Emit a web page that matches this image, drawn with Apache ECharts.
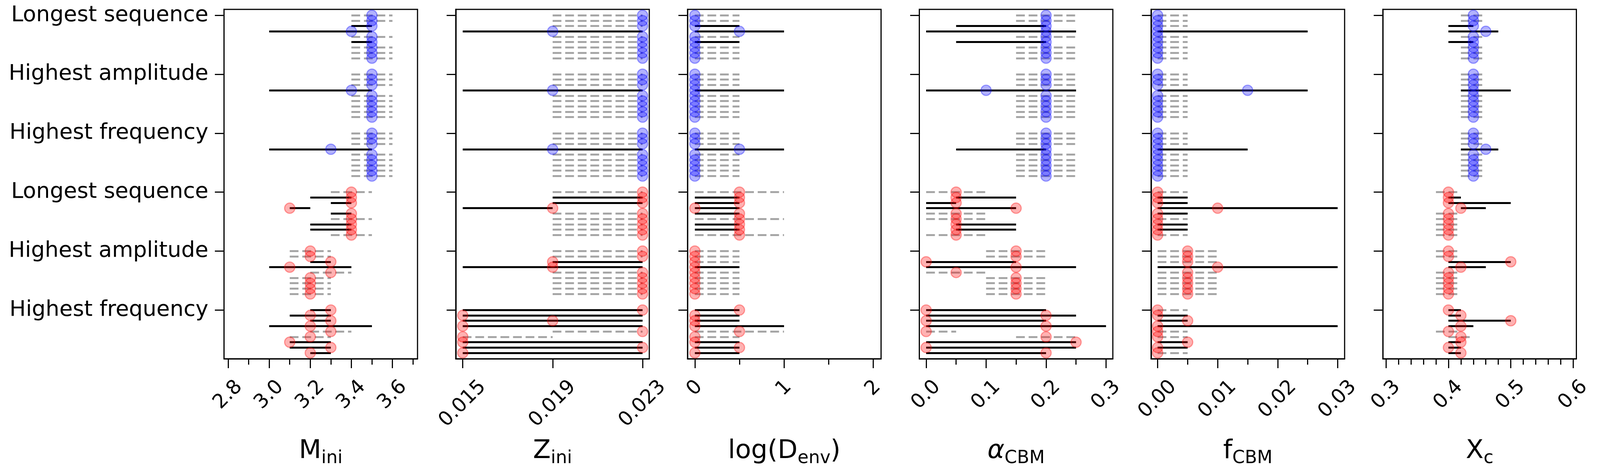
<!DOCTYPE html>
<html>
<head>
<meta charset="utf-8">
<script src="https://cdn.jsdelivr.net/npm/echarts@6/dist/echarts.min.js"></script>
<style>
  html, body { margin: 0; padding: 0; background: #fff; overflow: hidden; }
  #chart { width: 100vw; height: 100vh; }
</style>
</head>
<body>
<div id="chart"></div>
<script>
// Groups along the y axis (blue: first three, red: last three)
const groupNames = ["Longest sequence", "Highest amplitude", "Highest frequency",
                    "Longest sequence", "Highest amplitude", "Highest frequency"];
const groupTicks = [0, 1, 2, 3, 4, 5];

// M_ini
const mIniBest = [
  [3.5, 3.5, 3.5, 3.4, 3.5, 3.5, 3.5, 3.5, 3.5],
  [3.5, 3.5, 3.5, 3.4, 3.5, 3.5, 3.5, 3.5, 3.5],
  [3.5, 3.5, 3.5, 3.3, 3.5, 3.5, 3.5, 3.5, 3.5],
  [3.4, 3.4, 3.4, 3.1, 3.4, 3.4, 3.4, 3.4, 3.4],
  [3.2, 3.2, 3.3, 3.1, 3.3, 3.2, 3.2, 3.2, 3.2],
  [3.3, 3.2, 3.3, 3.2, 3.3, 3.2, 3.1, 3.3, 3.2]
];
const mIniLow = [
  [3.4, 3.4, 3.4, 3.0, 3.4, 3.4, 3.4, 3.4, 3.4],
  [3.4, 3.4, 3.4, 3.0, 3.4, 3.4, 3.4, 3.4, 3.4],
  [3.4, 3.4, 3.4, 3.0, 3.4, 3.4, 3.4, 3.4, 3.4],
  [3.3, 3.2, 3.3, 3.1, 3.3, 3.3, 3.2, 3.2, 3.3],
  [3.1, 3.1, 3.2, 3.0, 3.2, 3.1, 3.1, 3.1, 3.1],
  [3.2, 3.1, 3.2, 3.0, 3.2, 3.1, 3.1, 3.1, 3.2]
];
const mIniHigh = [
  [3.6, 3.6, 3.5, 3.5, 3.6, 3.5, 3.6, 3.6, 3.6],
  [3.6, 3.6, 3.6, 3.5, 3.6, 3.6, 3.6, 3.6, 3.6],
  [3.6, 3.6, 3.6, 3.5, 3.6, 3.6, 3.6, 3.6, 3.6],
  [3.5, 3.4, 3.4, 3.2, 3.4, 3.5, 3.4, 3.4, 3.5],
  [3.3, 3.3, 3.3, 3.4, 3.4, 3.3, 3.3, 3.3, 3.3],
  [3.3, 3.3, 3.3, 3.5, 3.4, 3.3, 3.3, 3.3, 3.3]
];
const mIniSolid = [
  [0, 0, 1, 1, 0, 1, 0, 0, 0],
  [0, 0, 0, 1, 0, 0, 0, 0, 0],
  [0, 0, 0, 1, 0, 0, 0, 0, 0],
  [0, 1, 1, 1, 1, 0, 1, 1, 0],
  [0, 0, 1, 1, 0, 0, 0, 0, 0],
  [1, 1, 1, 1, 0, 0, 1, 1, 1]
];
const mIniTicks = [2.8, 3.0, 3.2, 3.4, 3.6];
const mIniMinor = [2.9, 3.1, 3.3, 3.5, 3.7];

// Z_ini
const zIniBest = [
  [0.023, 0.023, 0.023, 0.019, 0.023, 0.023, 0.023, 0.023, 0.023],
  [0.023, 0.023, 0.023, 0.019, 0.023, 0.023, 0.023, 0.023, 0.023],
  [0.023, 0.023, 0.023, 0.019, 0.023, 0.023, 0.023, 0.023, 0.023],
  [0.023, 0.023, 0.023, 0.019, 0.023, 0.023, 0.023, 0.023, 0.023],
  [0.023, 0.023, 0.019, 0.019, 0.023, 0.023, 0.023, 0.023, 0.023],
  [0.023, 0.015, 0.019, 0.015, 0.023, 0.015, 0.015, 0.023, 0.015]
];
const zIniLow = [
  [0.019, 0.019, 0.019, 0.015, 0.019, 0.019, 0.019, 0.019, 0.019],
  [0.019, 0.019, 0.019, 0.015, 0.019, 0.019, 0.019, 0.019, 0.019],
  [0.019, 0.019, 0.019, 0.015, 0.019, 0.019, 0.019, 0.019, 0.019],
  [0.019, 0.019, 0.019, 0.015, 0.019, 0.019, 0.019, 0.019, 0.019],
  [0.019, 0.019, 0.019, 0.015, 0.019, 0.019, 0.019, 0.019, 0.019],
  [0.015, 0.015, 0.015, 0.015, 0.019, 0.015, 0.015, 0.015, 0.015]
];
const zIniHigh = [
  [0.023, 0.023, 0.023, 0.023, 0.023, 0.023, 0.023, 0.023, 0.023],
  [0.023, 0.023, 0.023, 0.023, 0.023, 0.023, 0.023, 0.023, 0.023],
  [0.023, 0.023, 0.023, 0.023, 0.023, 0.023, 0.023, 0.023, 0.023],
  [0.023, 0.023, 0.023, 0.019, 0.023, 0.023, 0.023, 0.023, 0.023],
  [0.023, 0.023, 0.023, 0.023, 0.023, 0.023, 0.023, 0.023, 0.023],
  [0.023, 0.023, 0.023, 0.023, 0.023, 0.019, 0.023, 0.023, 0.023]
];
const zIniSolid = [
  [0, 0, 0, 1, 0, 0, 0, 0, 0],
  [0, 0, 0, 1, 0, 0, 0, 0, 0],
  [0, 0, 0, 1, 0, 0, 0, 0, 0],
  [0, 1, 1, 1, 0, 0, 0, 0, 0],
  [0, 0, 1, 1, 0, 0, 0, 0, 0],
  [1, 1, 1, 1, 0, 0, 1, 1, 1]
];
const zIniTicks = [0.015, 0.019, 0.023];
const zIniMinor = [];

// log(D_env)
const logDBest = [
  [0, 0, 0, 0.5, 0, 0, 0, 0, 0],
  [0, 0, 0, 0, 0, 0, 0, 0, 0],
  [0, 0, 0, 0.5, 0, 0, 0, 0, 0],
  [0.5, 0.5, 0.5, 0, 0.5, 0.5, 0.5, 0.5, 0.5],
  [0, 0, 0, 0, 0, 0, 0, 0, 0],
  [0.5, 0, 0, 0, 0.5, 0, 0, 0.5, 0]
];
const logDLow = [
  [0, 0, 0, 0, 0, 0, 0, 0, 0],
  [0, 0, 0, 0, 0, 0, 0, 0, 0],
  [0, 0, 0, 0, 0, 0, 0, 0, 0],
  [0, 0, 0, 0, 0, 0, 0, 0, 0],
  [0, 0, 0, 0, 0, 0, 0, 0, 0],
  [0, 0, 0, 0, 0, 0, 0, 0, 0]
];
const logDHigh = [
  [0.5, 0.5, 0.5, 1, 0.5, 0.5, 0.5, 0.5, 0.5],
  [0.5, 0.5, 0.5, 1, 0.5, 0.5, 0.5, 0.5, 0.5],
  [0.5, 0.5, 0.5, 1, 0.5, 0.5, 0.5, 0.5, 0.5],
  [1, 0.5, 0.5, 0.5, 0.5, 1, 0.5, 0.5, 1],
  [0.5, 0.5, 0.5, 0.5, 0.5, 0.5, 0.5, 0.5, 0.5],
  [0.5, 0.5, 0.5, 1, 1, 0.5, 0.5, 0.5, 0.5]
];
const logDSolid = [
  [0, 0, 1, 1, 0, 1, 0, 0, 0],
  [0, 0, 0, 1, 0, 0, 0, 0, 0],
  [0, 0, 0, 1, 0, 0, 0, 0, 0],
  [0, 1, 1, 1, 1, 0, 1, 1, 0],
  [0, 0, 0, 1, 0, 0, 0, 0, 0],
  [1, 1, 1, 1, 0, 0, 1, 1, 1]
];
const logDTicks = [0, 1, 2];
const logDMinor = [0.5, 1.5];

// alpha_CBM
const alphaBest = [
  [0.2, 0.2, 0.2, 0.2, 0.2, 0.2, 0.2, 0.2, 0.2],
  [0.2, 0.2, 0.2, 0.1, 0.2, 0.2, 0.2, 0.2, 0.2],
  [0.2, 0.2, 0.2, 0.2, 0.2, 0.2, 0.2, 0.2, 0.2],
  [0.05, 0.05, 0.05, 0.15, 0.05, 0.05, 0.05, 0.05, 0.05],
  [0.15, 0.15, 0, 0.15, 0.05, 0.15, 0.15, 0.15, 0.15],
  [0, 0.2, 0, 0.2, 0, 0.2, 0.25, 0, 0.2]
];
const alphaLow = [
  [0.15, 0.15, 0.05, 0, 0.15, 0.05, 0.15, 0.15, 0.15],
  [0.15, 0.15, 0.15, 0, 0.15, 0.15, 0.15, 0.15, 0.15],
  [0.15, 0.15, 0.15, 0.05, 0.15, 0.15, 0.15, 0.15, 0.15],
  [0, 0.05, 0, 0, 0, 0, 0.05, 0.05, 0],
  [0.1, 0.1, 0, 0, 0, 0.1, 0.1, 0.1, 0.1],
  [0, 0, 0, 0, 0, 0.15, 0, 0, 0]
];
const alphaHigh = [
  [0.25, 0.25, 0.2, 0.25, 0.25, 0.2, 0.25, 0.25, 0.25],
  [0.25, 0.25, 0.25, 0.25, 0.25, 0.25, 0.25, 0.25, 0.25],
  [0.25, 0.25, 0.25, 0.2, 0.25, 0.25, 0.25, 0.25, 0.25],
  [0.1, 0.15, 0.05, 0.15, 0.1, 0.1, 0.15, 0.15, 0.1],
  [0.2, 0.2, 0.15, 0.25, 0.1, 0.2, 0.2, 0.2, 0.2],
  [0.2, 0.25, 0.2, 0.3, 0.05, 0.25, 0.25, 0.25, 0.2]
];
const alphaSolid = [
  [0, 0, 1, 1, 0, 1, 0, 0, 0],
  [0, 0, 0, 1, 0, 0, 0, 0, 0],
  [0, 0, 0, 1, 0, 0, 0, 0, 0],
  [0, 1, 1, 1, 0, 0, 1, 1, 0],
  [0, 0, 1, 1, 0, 0, 0, 0, 0],
  [1, 1, 1, 1, 0, 0, 1, 1, 1]
];
const alphaTicks = [0, 0.1, 0.2, 0.3];
const alphaMinor = [0.05, 0.15, 0.25];

// f_CBM
const fBest = [
  [0, 0, 0, 0, 0, 0, 0, 0, 0],
  [0, 0, 0, 0.015, 0, 0, 0, 0, 0],
  [0, 0, 0, 0, 0, 0, 0, 0, 0],
  [0, 0, 0, 0.01, 0, 0, 0, 0, 0],
  [0.005, 0.005, 0.005, 0.01, 0.005, 0.005, 0.005, 0.005, 0.005],
  [0, 0, 0.005, 0, 0, 0, 0.005, 0, 0]
];
const fLow = [
  [0, 0, 0, 0, 0, 0, 0, 0, 0],
  [0, 0, 0, 0, 0, 0, 0, 0, 0],
  [0, 0, 0, 0, 0, 0, 0, 0, 0],
  [0, 0, 0, 0, 0, 0, 0, 0, 0],
  [0, 0, 0, 0, 0, 0, 0, 0, 0],
  [0, 0, 0, 0, 0, 0, 0, 0, 0]
];
const fHigh = [
  [0.005, 0.005, 0.005, 0.025, 0.005, 0.005, 0.005, 0.005, 0.005],
  [0.005, 0.005, 0.005, 0.025, 0.005, 0.005, 0.005, 0.005, 0.005],
  [0.005, 0.005, 0.005, 0.015, 0.005, 0.005, 0.005, 0.005, 0.005],
  [0.005, 0.005, 0.005, 0.03, 0.005, 0.005, 0.005, 0.005, 0.005],
  [0.01, 0.01, 0.01, 0.03, 0.01, 0.01, 0.01, 0.01, 0.01],
  [0.005, 0.005, 0.005, 0.03, 0.005, 0.005, 0.005, 0.005, 0.005]
];
const fSolid = [
  [0, 0, 0, 1, 0, 0, 0, 0, 0],
  [0, 0, 0, 1, 0, 0, 0, 0, 0],
  [0, 0, 0, 1, 0, 0, 0, 0, 0],
  [0, 1, 1, 1, 1, 0, 1, 1, 0],
  [0, 0, 0, 1, 0, 0, 0, 0, 0],
  [0, 1, 1, 1, 0, 0, 1, 1, 0]
];
const fTicks = [0, 0.01, 0.02, 0.03];
const fMinor = [0.005, 0.015, 0.025];

// X_c
const xcBest = [
  [0.44, 0.44, 0.44, 0.46, 0.44, 0.44, 0.44, 0.44, 0.44],
  [0.44, 0.44, 0.44, 0.44, 0.44, 0.44, 0.44, 0.44, 0.44],
  [0.44, 0.44, 0.44, 0.46, 0.44, 0.44, 0.44, 0.44, 0.44],
  [0.40, 0.40, 0.40, 0.42, 0.40, 0.40, 0.40, 0.40, 0.40],
  [0.40, 0.40, 0.50, 0.42, 0.40, 0.40, 0.40, 0.40, 0.40],
  [0.40, 0.42, 0.50, 0.42, 0.40, 0.42, 0.42, 0.40, 0.42]
];
const xcLow = [
  [0.42, 0.42, 0.40, 0.40, 0.42, 0.40, 0.42, 0.42, 0.42],
  [0.42, 0.42, 0.42, 0.42, 0.42, 0.42, 0.42, 0.42, 0.42],
  [0.42, 0.42, 0.42, 0.42, 0.42, 0.42, 0.42, 0.42, 0.42],
  [0.38, 0.40, 0.40, 0.42, 0.38, 0.38, 0.38, 0.38, 0.38],
  [0.38, 0.38, 0.40, 0.40, 0.38, 0.38, 0.38, 0.38, 0.38],
  [0.40, 0.40, 0.40, 0.40, 0.38, 0.40, 0.40, 0.40, 0.40]
];
const xcHigh = [
  [0.46, 0.46, 0.44, 0.48, 0.46, 0.44, 0.46, 0.46, 0.46],
  [0.46, 0.46, 0.46, 0.50, 0.46, 0.46, 0.46, 0.46, 0.46],
  [0.46, 0.46, 0.46, 0.48, 0.46, 0.46, 0.46, 0.46, 0.46],
  [0.42, 0.42, 0.50, 0.46, 0.42, 0.42, 0.42, 0.42, 0.42],
  [0.42, 0.42, 0.50, 0.46, 0.42, 0.42, 0.42, 0.42, 0.42],
  [0.42, 0.42, 0.50, 0.44, 0.42, 0.44, 0.42, 0.42, 0.42]
];
const xcSolid = [
  [0, 0, 1, 1, 0, 1, 0, 0, 0],
  [0, 0, 0, 1, 0, 0, 0, 0, 0],
  [0, 0, 0, 1, 0, 0, 0, 0, 0],
  [0, 1, 1, 1, 0, 0, 0, 0, 0],
  [0, 0, 1, 1, 0, 0, 0, 0, 0],
  [1, 1, 1, 1, 0, 0, 1, 1, 1]
];
const xcTicks = [0.3, 0.4, 0.5, 0.6];
const xcMinor = [0.32, 0.34, 0.36, 0.38, 0.42, 0.44, 0.46, 0.48, 0.52, 0.54, 0.56, 0.58];

(function () {
  const FONT = "DejaVu Sans";
  const panels = [
    { best: mIniBest, low: mIniLow, high: mIniHigh, solid: mIniSolid, ticks: mIniTicks, minor: mIniMinor,
      min: 2.78, max: 3.722, digits: 1, name: "{m|M}{s|ini}" },
    { best: zIniBest, low: zIniLow, high: zIniHigh, solid: zIniSolid, ticks: zIniTicks, minor: zIniMinor,
      min: 0.01469, max: 0.0233, digits: 3, name: "{m|Z}{s|ini}" },
    { best: logDBest, low: logDLow, high: logDHigh, solid: logDSolid, ticks: logDTicks, minor: logDMinor,
      min: -0.082, max: 2.088, digits: 0, name: "{m|log(D}{s|env}{m|)}" },
    { best: alphaBest, low: alphaLow, high: alphaHigh, solid: alphaSolid, ticks: alphaTicks, minor: alphaMinor,
      min: -0.0114, max: 0.3114, digits: 1, name: "{a|α}{s|CBM}" },
    { best: fBest, low: fLow, high: fHigh, solid: fSolid, ticks: fTicks, minor: fMinor,
      min: -0.00109, max: 0.03116, digits: 2, name: "{m|f}{s|CBM}" },
    { best: xcBest, low: xcLow, high: xcHigh, solid: xcSolid, ticks: xcTicks, minor: xcMinor,
      min: 0.29485, max: 0.60526, digits: 1, name: "{m|X}{s|c}" }
  ];

  // layout is written for a 4200x1200 page and scaled to the real viewport
  const W = window.innerWidth || 4200, H = window.innerHeight || 1200;
  const sx = W / 4200, sy = H / 1200, s = Math.min(sx, sy);

  // rows inside a group are stacked 1/11 apart below the group tick
  const rowY = (g, j) => g + j / 11;

  // centre the rotated tick labels under their tick like matplotlib does
  const ctx = document.createElement("canvas").getContext("2d");
  const tickFont = 52 * s;
  ctx.font = tickFont + "px '" + FONT + "'";
  function labelMargin(texts) {
    const w = Math.max.apply(null, texts.map(t => ctx.measureText(t).width));
    return 51 * sy + (w + 0.73 * tickFont) / (2 * Math.SQRT2);
  }

  const grid = [], xAxis = [], yAxis = [], series = [];
  const left0 = 588, step = 608.4, width = 508, top = 24, height = 894;
  const tickStyle = { color: "#000", width: 3 * s };

  panels.forEach((p, i) => {
    grid.push({
      left: (left0 + i * step) * sx, top: top * sy, width: width * sx, height: height * sy,
      show: true, borderColor: "#000", borderWidth: 3 * s, backgroundColor: "transparent",
      containLabel: false, outerBoundsMode: "none"
    });
    const labels = p.ticks.map(v => v.toFixed(p.digits));
    xAxis.push({
      gridIndex: i, type: "value", position: "bottom", min: p.min, max: p.max,
      splitLine: { show: false },
      axisLine: { show: true, onZero: false, lineStyle: tickStyle },
      axisTick: { show: true, customValues: p.ticks, length: 24 * sy, lineStyle: tickStyle },
      axisLabel: {
        customValues: p.ticks, rotate: 45, align: "center", verticalAlign: "middle",
        margin: labelMargin(labels), fontSize: tickFont, fontFamily: FONT, color: "#000",
        formatter: v => Number(v).toFixed(p.digits)
      },
      name: p.name, nameLocation: "middle", nameGap: 204 * sy, nameMoveOverlap: false,
      nameTextStyle: {
        color: "#000", fontFamily: FONT,
        rich: {
          m: { fontSize: 68 * s, verticalAlign: "top", fontFamily: FONT, color: "#000" },
          a: { fontSize: 68 * s, verticalAlign: "top", fontFamily: FONT, fontStyle: "italic", color: "#000" },
          s: { fontSize: 47 * s, verticalAlign: "top", padding: [29 * s, 0, 0, 0], fontFamily: FONT, color: "#000" }
        }
      }
    });
    // second axis only for the short minor ticks
    xAxis.push({
      gridIndex: i, type: "value", position: "bottom", min: p.min, max: p.max,
      splitLine: { show: false }, axisLine: { show: false, onZero: false }, axisLabel: { show: false },
      axisTick: { show: p.minor.length > 0, customValues: p.minor.length ? p.minor : [p.min],
                  length: 15 * sy, lineStyle: tickStyle }
    });
    yAxis.push({
      gridIndex: i, type: "value", inverse: true, min: -0.1, max: 5.827, position: "left",
      splitLine: { show: false },
      axisLine: { show: true, onZero: false, lineStyle: tickStyle },
      axisTick: { show: true, customValues: groupTicks, length: 24 * sx, lineStyle: tickStyle },
      axisLabel: {
        show: i === 0, customValues: groupTicks, margin: 41 * sx, fontSize: 57 * s, fontFamily: FONT, color: "#000",
        formatter: v => groupNames[Math.round(v)]
      }
    });

    const solidLines = [], dashedLines = [], blue = [], red = [];
    p.best.forEach((row, g) => {
      row.forEach((v, j) => {
        const y = rowY(g, j);
        const seg = { coords: [[p.low[g][j], y], [p.high[g][j], y]] };
        (p.solid[g][j] ? solidLines : dashedLines).push(seg);
        (g < 3 ? blue : red).push([v, y]);
      });
    });
    series.push({
      type: "lines", coordinateSystem: "cartesian2d", xAxisIndex: 2 * i, yAxisIndex: i,
      polyline: false, silent: true, z: 2, data: dashedLines,
      lineStyle: { color: "#a6a6a6", width: 5 * s, type: [23 * s, 10 * s], opacity: 1, cap: "butt" }
    });
    series.push({
      type: "lines", coordinateSystem: "cartesian2d", xAxisIndex: 2 * i, yAxisIndex: i,
      polyline: false, silent: true, z: 3, data: solidLines,
      lineStyle: { color: "#000", width: 5 * s, type: "solid", opacity: 1, cap: "butt" }
    });
    series.push({
      type: "scatter", xAxisIndex: 2 * i, yAxisIndex: i, z: 4, symbol: "circle", symbolSize: 27 * s,
      data: blue, silent: true,
      itemStyle: { color: "rgba(0,0,255,0.3)", borderColor: "rgba(0,0,255,0.35)", borderWidth: 3 * s, opacity: 1 }
    });
    series.push({
      type: "scatter", xAxisIndex: 2 * i, yAxisIndex: i, z: 4, symbol: "circle", symbolSize: 27 * s,
      data: red, silent: true,
      itemStyle: { color: "rgba(255,0,0,0.3)", borderColor: "rgba(255,0,0,0.35)", borderWidth: 3 * s, opacity: 1 }
    });
  });

  const chart = echarts.init(document.getElementById("chart"));
  chart.setOption({
    backgroundColor: "#fff",
    animation: false,
    grid: grid,
    xAxis: xAxis,
    yAxis: yAxis,
    series: series
  });
  window.addEventListener("resize", () => chart.resize());
})();
</script>
</body>
</html>
